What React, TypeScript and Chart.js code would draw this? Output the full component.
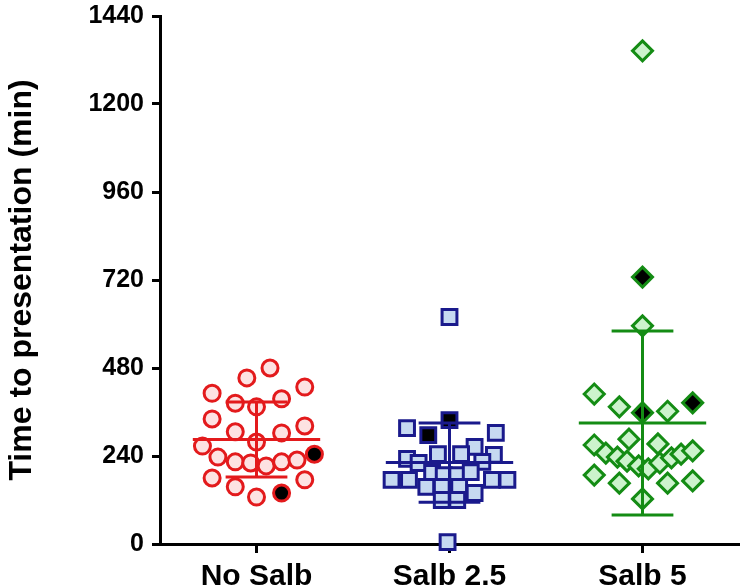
import React, { useEffect, useRef } from "react";
import { Chart, registerables } from "chart.js";

Chart.register(...registerables);

const categories = ["No Salb", "Salb 2.5", "Salb 5"];
const yTitle = "Time to presentation (min)";

// No Salb (open circles)
const noSalbValues = [480, 453, 428, 411, 384, 374, 396, 341, 322, 306, 303, 267, 278, 237, 224, 221, 213, 224, 229, 180, 156, 128, 175];
const noSalbJitter = [0.07, -0.05, 0.25, -0.23, -0.11, 0.0, 0.13, -0.23, 0.25, -0.11, 0.13, -0.28, 0.0, -0.2, -0.11, -0.03, 0.05, 0.13, 0.21, -0.23, -0.11, 0.0, 0.25];
const noSalbBlackValues = [245, 139];
const noSalbBlackJitter = [0.3, 0.13];

// Salb 2.5 (squares)
const salb25Values = [619, 316, 303, 265, 245, 245, 232, 221, 243, 224, 175, 175, 194, 188, 188, 196, 175, 175, 156, 156, 156, 139, 120, 120, 5];
const salb25Jitter = [0.0, -0.22, 0.24, 0.13, -0.06, 0.06, -0.22, -0.16, 0.23, 0.17, -0.3, -0.21, -0.09, -0.03, 0.04, 0.11, 0.22, 0.3, -0.12, -0.04, 0.05, 0.13, -0.04, 0.04, -0.01];
const salb25BlackValues = [338, 297];
const salb25BlackJitter = [0.0, -0.11];

// Salb 5 (diamonds)
const salb5Values = [1345, 595, 409, 374, 362, 270, 286, 273, 248, 237, 226, 213, 205, 221, 235, 245, 254, 188, 166, 166, 172, 123];
const salb5Jitter = [0.0, 0.0, -0.25, -0.12, 0.13, -0.25, -0.07, 0.08, -0.19, -0.13, -0.08, -0.02, 0.03, 0.09, 0.15, 0.2, 0.26, -0.25, -0.12, 0.13, 0.26, 0.0];
const salb5BlackValues = [728, 358, 385];
const salb5BlackJitter = [0.0, 0.0, 0.26];

// Mean and SD per group
const means = [285, 222, 330];
const sds = [102, 108, 251];

const yTicks = [0, 240, 480, 720, 960, 1200, 1440];

const colors = ["#e31a1c", "#1a1a8c", "#148c14"];
const fills = ["#fde2e2", "#c6d9f1", "#ccf3cc"];
const FONT = "'Liberation Sans', Arial, Helvetica, sans-serif";

export default function App() {
  const ref = useRef<HTMLCanvasElement | null>(null);

  useEffect(() => {
    if (!ref.current) return;

    const pts = (vals: number[], jit: number[], c: number) =>
      vals.map((v, i) => ({ x: c + jit[i], y: v }));

    const pointSets = [
      { vals: noSalbValues, jit: noSalbJitter, c: 0, style: "circle", r: 8, fill: fills[0] },
      { vals: noSalbBlackValues, jit: noSalbBlackJitter, c: 0, style: "circle", r: 8, fill: "#000" },
      { vals: salb25Values, jit: salb25Jitter, c: 1, style: "rect", r: 10.5, fill: fills[1] },
      { vals: salb25BlackValues, jit: salb25BlackJitter, c: 1, style: "rect", r: 10.5, fill: "#000" },
      { vals: salb5Values, jit: salb5Jitter, c: 2, style: "rectRot", r: 10, fill: fills[2] },
      { vals: salb5BlackValues, jit: salb5BlackJitter, c: 2, style: "rectRot", r: 10, fill: "#000" },
    ];

    const lineDatasets: any[] = [];
    means.forEach((m, c) => {
      const s = sds[c];
      const segs = [
        [{ x: c - 0.33, y: m }, { x: c + 0.33, y: m }],
        [{ x: c, y: m - s }, { x: c, y: m + s }],
        [{ x: c - 0.16, y: m + s }, { x: c + 0.16, y: m + s }],
        [{ x: c - 0.16, y: m - s }, { x: c + 0.16, y: m - s }],
      ];
      segs.forEach((d) =>
        lineDatasets.push({
          type: "line",
          data: d,
          showLine: true,
          borderColor: colors[c],
          borderWidth: 3,
          pointRadius: 0,
          fill: false,
          order: 0,
          clip: false,
        })
      );
    });

    const scatterDatasets = pointSets.map((p) => ({
      type: "scatter",
      data: pts(p.vals, p.jit, p.c),
      pointStyle: p.style,
      pointRadius: p.r,
      pointBorderWidth: 3,
      borderColor: colors[p.c],
      backgroundColor: p.fill,
      pointBackgroundColor: p.fill,
      pointBorderColor: colors[p.c],
      order: 1,
      clip: false,
    }));

    const chart = new Chart(ref.current, {
      type: "scatter",
      data: { datasets: [...lineDatasets, ...scatterDatasets] as any },
      options: {
        animation: false,
        responsive: false,
        events: [],
        layout: { autoPadding: false, padding: { left: 0, top: 16, right: 3, bottom: 0 } },
        plugins: { legend: { display: false }, tooltip: { enabled: false } },
        scales: {
          x: {
            type: "linear",
            min: -0.5,
            max: 2.5,
            afterBuildTicks: (scale: any) => {
              scale.ticks = categories.map((_, i) => ({ value: i }));
            },
            afterFit: (scale: any) => {
              scale.height = 44;
              scale.paddingLeft = 0;
              scale.paddingRight = 0;
            },
            ticks: {
              callback: (v: any) => categories[Math.round(Number(v))],
              color: "#000",
              font: { family: FONT, size: 30, weight: "bold" },
              padding: 6,
              maxRotation: 0,
              autoSkip: false,
            },
            grid: {
              display: true,
              drawOnChartArea: false,
              drawTicks: true,
              tickLength: 9,
              tickWidth: 3,
              tickColor: "#000",
            },
            border: { display: true, color: "#000", width: 3 },
          },
          y: {
            type: "linear",
            min: 0,
            max: 1440,
            afterBuildTicks: (scale: any) => {
              scale.ticks = yTicks.map((v) => ({ value: v }));
            },
            afterFit: (scale: any) => {
              scale.width = 160;
              scale.paddingTop = 0;
              scale.paddingBottom = 0;
            },
            ticks: {
              callback: (v: any) => String(v),
              color: "#000",
              font: { family: FONT, size: 25, weight: "bold" },
              padding: 8,
            },
            title: {
              display: true,
              text: yTitle,
              color: "#000",
              font: { family: FONT, size: 32, weight: "bold" },
              padding: { top: 3, bottom: 0 },
            },
            grid: {
              display: true,
              drawOnChartArea: false,
              drawTicks: true,
              tickLength: 8,
              tickWidth: 3,
              tickColor: "#000",
            },
            border: { display: true, color: "#000", width: 3 },
          },
        },
      } as any,
    });

    return () => chart.destroy();
  }, []);

  return (
    <div style={{ position: "fixed", left: 0, top: 0, width: 742, height: 588, background: "#fff" }}>
      <canvas ref={ref} width={742} height={588} style={{ display: "block" }} />
    </div>
  );
}
